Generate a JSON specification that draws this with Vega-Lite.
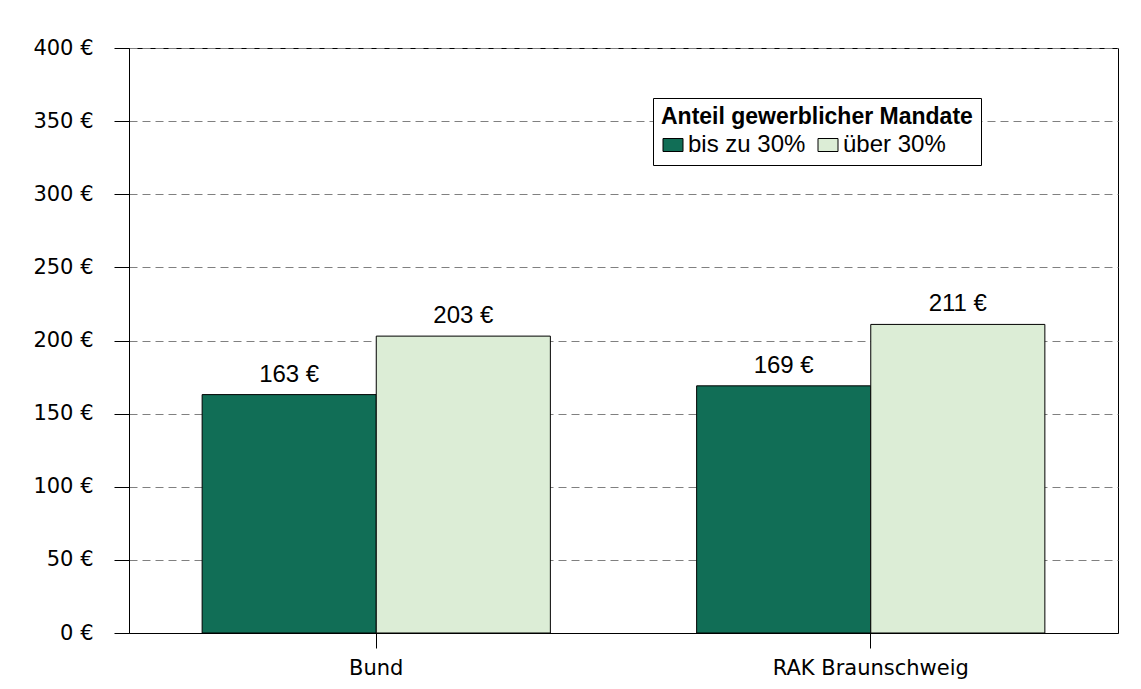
{
  "$schema": "https://vega.github.io/schema/vega-lite/v6.json",
  "width": 989,
  "height": 585,
  "autosize": {"type": "none"},
  "padding": {"left": 129, "top": 48, "right": 23, "bottom": 56},
  "background": "white",
  "config": {"view": {"stroke": "#000", "strokeWidth": 1}, "font": "Liberation Sans"},
  "data": {
    "values": [
      {"region": "Bund", "group": "bis zu 30%", "value": 163, "label": "163 €"},
      {"region": "Bund", "group": "über 30%", "value": 203, "label": "203 €"},
      {"region": "RAK Braunschweig", "group": "bis zu 30%", "value": 169, "label": "169 €"},
      {"region": "RAK Braunschweig", "group": "über 30%", "value": 211, "label": "211 €"}
    ]
  },
  "encoding": {
    "x": {
      "field": "region", "type": "nominal", "sort": null,
      "scale": {"paddingInner": 0, "paddingOuter": 0},
      "axis": {"title": null, "labelAngle": 0, "labelLimit": 0, "tickSize": 15, "tickColor": "#000", "domainColor": "#000",
        "labelFont": "DejaVu Sans", "labelFontSize": 21, "labelColor": "#000", "labelPadding": 9}
    },
    "xOffset": {"field": "group", "type": "nominal", "sort": null, "scale": {"paddingInner": 0, "paddingOuter": 0.42}},
    "y": {
      "field": "value", "type": "quantitative", "scale": {"domain": [0, 400]},
      "axis": {"title": null, "values": [0, 50, 100, 150, 200, 250, 300, 350, 400], "labelExpr": "datum.value + ' €'",
        "grid": true, "gridDash": [8, 5], "gridColor": "#808080", "tickSize": 15, "tickColor": "#000", "domainColor": "#000",
        "labelFont": "DejaVu Sans", "labelFontSize": 21, "labelColor": "#000", "labelPadding": 21}
    }
  },
  "layer": [
    {
      "mark": {"type": "bar", "stroke": "#000", "strokeWidth": 1},
      "encoding": {
        "color": {
          "field": "group", "type": "nominal", "sort": null,
          "scale": {"range": ["#116E56", "#DCEDD6"]},
          "legend": {
            "title": "Anteil gewerblicher Mandate", "orient": "none", "legendX": 524, "legendY": 50,
            "direction": "horizontal", "titleAnchor": "start", "titleLimit": 0, "labelLimit": 0,
            "titleFont": "Liberation Sans", "titleFontSize": 23, "titleFontWeight": "bold", "titleColor": "#000",
            "labelFont": "Liberation Sans", "labelFontSize": 24, "labelColor": "#000",
            "symbolType": "M-1,-0.65H1V0.65H-1Z", "symbolSize": 400, "symbolStrokeColor": "#000", "symbolStrokeWidth": 1, "symbolOpacity": 1,
            "strokeColor": "#000", "fillColor": "#fff", "padding": 8, "columnPadding": 10, "labelOffset": 3, "titlePadding": 4
          }
        }
      }
    },
    {
      "mark": {"type": "text", "dy": -13, "baseline": "alphabetic", "fontSize": 24, "font": "Liberation Sans", "color": "#000"},
      "encoding": {"text": {"field": "label", "type": "nominal"}}
    }
  ]
}
